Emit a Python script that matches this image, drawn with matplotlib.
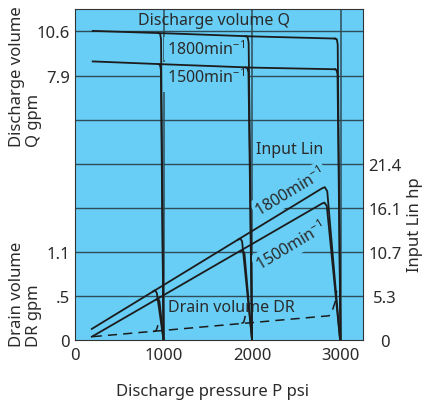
import matplotlib
matplotlib.use("Agg")
import matplotlib.pyplot as plt  # noqa: E402

plt.rcParams["font.family"] = ["Noto Sans", "DejaVu Sans"]
plt.rcParams["mathtext.fontset"] = "custom"
plt.rcParams["mathtext.rm"] = "Noto Sans"

BG = "#68cef5"
INK = "#1c1c1c"
GRID = "#2f4c58"
TXT = "#2a2a2a"

# the chart is drawn on equal grid rows; every y axis maps those rows to its own unit
ROWS_TOP = 7.52
N_GRID_ROWS = 7
DR_PER_ROW = 0.528   # 2 L/min
Q_PER_ROW = 2.642    # 10 L/min
Q_ZERO_ROW = 3       # Q scale starts at the 3rd grid row
HP_PER_ROW = 5.364   # 4 kW

PRESSURE_TICKS = [0, 1000, 2000, 3000]
Q_TICKS = [7.9, 10.6]
DR_TICKS = [0, 0.528, 1.057]
DR_TICK_LABELS = ["0", ".5", "1.1"]
HP_TICKS = [0, 5.3, 10.7, 16.1, 21.4]

# discharge volume Q (gpm); cut-off lines run down to the chart floor
Q_FLOOR = -Q_ZERO_ROW * Q_PER_ROW
q1800_p = [200, 1000, 2000, 2940]
q1800 = [10.6, 10.46, 10.27, 10.14]
q1800_cut_p = [[940, 962, 972, 1000], [1925, 1950, 1962, 2000], [2935, 2958, 2968, 3000]]
q1800_cut = [[10.47, 10.43, 10.1, Q_FLOOR], [10.28, 10.24, 9.9, Q_FLOOR], [10.14, 10.1, 9.8, Q_FLOOR]]
q1500_p = [200, 1000, 2000, 2940]
q1500 = [8.77, 8.6, 8.4, 8.3]
q1500_cut_p = [[940, 960, 970, 1000], [1925, 1948, 1960, 2000], [2935, 2955, 2966, 3000]]
q1500_cut = [[8.61, 8.57, 8.3, Q_FLOOR], [8.41, 8.37, 8.1, Q_FLOOR], [8.3, 8.26, 8.0, Q_FLOOR]]

# input power Lin (hp)
pw1800_p = [190, 2790, 2822, 2850, 2995]
pw1800 = [1.35, 18.45, 18.6, 18.1, 0]
pw1800_cut_p = [[880, 905, 925, 1000], [1840, 1868, 1888, 2000]]
pw1800_cut = [[5.9, 6.05, 5.7, 0], [12.2, 12.35, 12.0, 0]]
pw1500_p = [190, 2790, 2818, 2845, 2995]
pw1500 = [0.4, 16.6, 16.72, 16.3, 0]
pw1500_cut_p = [[915, 940, 955, 1000], [1870, 1898, 1915, 2000]]
pw1500_cut = [[4.9, 5.02, 4.7, 0], [10.8, 10.92, 10.5, 0]]

# drain volume DR (gpm)
dr_p = [200, 2870, 2900, 2938, 2957]
dr = [0.04, 0.29, 0.33, 0.45, 0.59]
dr_cut_p = [[880, 915, 930, 940], [1880, 1905, 1918, 1925]]
dr_cut = [[0.1, 0.11, 0.15, 0.2], [0.2, 0.21, 0.26, 0.3]]


def main() -> None:
    fig = plt.figure(figsize=(4.25, 4.02), dpi=100)
    ax = fig.add_axes([75 / 425, 61 / 402, 288 / 425, 331.5 / 402])
    ax.set_facecolor(BG)
    ax.set_xlim(0, 3254)
    ax.set_ylim(0, ROWS_TOP * DR_PER_ROW)

    axq = ax.twinx()
    axq.set_ylim(-Q_ZERO_ROW * Q_PER_ROW, (ROWS_TOP - Q_ZERO_ROW) * Q_PER_ROW)
    axq.yaxis.tick_left()
    axp = ax.twinx()
    axp.set_ylim(0, ROWS_TOP * HP_PER_ROW)

    # grid
    for r in range(1, N_GRID_ROWS + 1):
        ax.axhline(r * DR_PER_ROW, color=GRID, lw=1.0, zorder=1)
    ax.set_xticks(PRESSURE_TICKS)
    ax.grid(axis="x", color=GRID, lw=1.1, zorder=1)
    ax.set_axisbelow(True)

    # ticks
    ax.set_yticks(DR_TICKS, DR_TICK_LABELS)
    axq.set_yticks(Q_TICKS, [f"{v}" for v in Q_TICKS])
    axp.set_yticks(HP_TICKS, ["0" if v == 0 else f"{v}" for v in HP_TICKS])
    for a in (ax, axq, axp):
        a.tick_params(length=0, labelsize=12, labelcolor=TXT)
        for s in a.spines.values():
            s.set_visible(a is ax)
            s.set_color("#333333")
    ax.tick_params(axis="x", pad=5)
    ax.tick_params(axis="y", pad=3.5)
    axq.tick_params(axis="y", pad=3.5)
    axp.tick_params(axis="y", pad=16)
    for lbl in axp.get_yticklabels():
        lbl.set_ha("center")

    # curves
    lw = 1.3
    for p, q in ((q1800_p, q1800), (q1500_p, q1500)):
        axq.plot(p, q, color=INK, lw=lw)
    for cp, cq in zip(q1800_cut_p + q1500_cut_p, q1800_cut + q1500_cut):
        axq.plot(cp, cq, color=INK, lw=lw)
    for p, h in ((pw1800_p, pw1800), (pw1500_p, pw1500)):
        axp.plot(p, h, color=INK, lw=lw)
    for cp, ch in zip(pw1800_cut_p + pw1500_cut_p, pw1800_cut + pw1500_cut):
        axp.plot(cp, ch, color=INK, lw=lw)
    ax.plot(dr_p, dr, color=INK, lw=1.1, ls=(0, (6, 4)), zorder=4)
    for cp, cd in zip(dr_cut_p, dr_cut):
        ax.plot(cp, cd, color=INK, lw=1.1, ls=(0, (6, 4)), zorder=4)

    # annotations
    box = dict(boxstyle="square,pad=0.15", fc=BG, ec="none")
    kw = dict(fontsize=11.5, color=TXT, zorder=3)
    ax.text(1574, 7.27 * DR_PER_ROW, "Discharge volume Q", ha="center", va="center", **kw)
    ax.text(1036, 6.61 * DR_PER_ROW, "1800min$^{-1}$", ha="left", va="center", bbox=box, **kw)
    ax.text(1036, 5.97 * DR_PER_ROW, "1500min$^{-1}$", ha="left", va="center",
            bbox=dict(boxstyle="square,pad=0.35", fc=BG, ec="none"), **kw)
    ax.text(2049, 4.33 * DR_PER_ROW, "Input Lin", ha="left", va="center", bbox=box, **kw)
    ax.text(2429, 3.37 * DR_PER_ROW, "1800min$^{-1}$", ha="center", va="center", rotation=31,
            rotation_mode="anchor", bbox=box, **kw)
    ax.text(2441, 2.14 * DR_PER_ROW, "1500min$^{-1}$", ha="center", va="center", rotation=31,
            rotation_mode="anchor", bbox=box, **kw)
    ax.text(1047, 0.75 * DR_PER_ROW, "Drain volume DR", ha="left", va="center", **kw)

    # axis titles (each line placed on its own, bottom-aligned like the original)
    lab = dict(fontsize=12, color=TXT, rotation=90, ha="center", va="bottom")
    fig.text(17 / 425, 1 - 147 / 402, "Discharge volume", **lab)
    fig.text(34 / 425, 1 - 147 / 402, "Q gpm", **lab)
    fig.text(17 / 425, 1 - 347 / 402, "Drain volume", **lab)
    fig.text(34 / 425, 1 - 347 / 402, "DR gpm", **lab)
    fig.text(415 / 425, 1 - 272 / 402, "Input Lin hp", **lab)
    fig.text(212 / 425, 1 - 392 / 402, "Discharge pressure P psi", ha="center", va="center",
             fontsize=12, color=TXT)

    fig.savefig("out.png", dpi=100, facecolor="white")


if __name__ == "__main__":
    main()
